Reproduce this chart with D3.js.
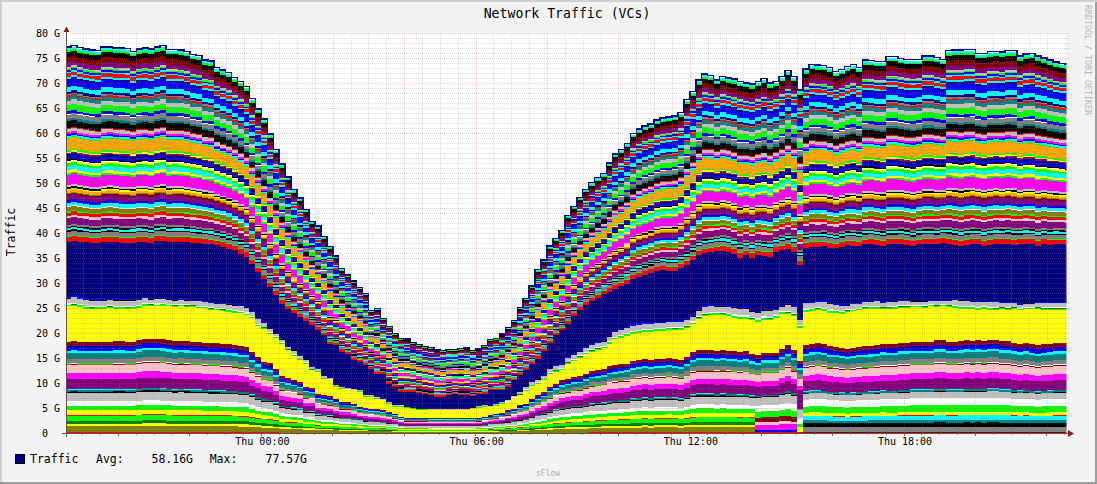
<!DOCTYPE html>
<html><head><meta charset="utf-8">
<script src="https://cdn.jsdelivr.net/npm/d3@7"></script>
<style>
html,body{margin:0;padding:0;background:#F3F3F3;overflow:hidden}
svg{display:block}
text{font-family:"DejaVu Sans Mono",monospace;white-space:pre;fill:#000}
</style></head><body><svg id="c" width="1097" height="484"></svg>
<script>
// ---- values, in G, one per 10-minute sample from Wed 18:30 ----
const totalTraffic=[77.2,77.5,77.1,76.8,76.6,76.5,77.2,77.2,77.0,77.0,76.9,76.3,76.8,77.0,76.8,77.2,77.5,76.7,76.7,76.6,76.3,75.7,75.5,74.6,74.4,73.1,72.6,72.1,71.1,70.3,69.3,66.9,64.8,62.8,59.8,56.7,53.8,51.2,48.7,47.0,
44.7,42.3,41.4,39.3,37.3,35.4,32.9,31.6,30.4,29.1,27.9,24.5,24.9,22.9,21.3,19.9,18.9,18.8,18.1,17.7,17.3,17.1,16.6,16.5,16.7,16.7,16.9,17.0,16.5,16.8,17.5,18.7,18.9,19.8,
21.1,22.5,25.1,26.9,29.4,32.7,34.6,37.4,38.9,40.5,43.5,45.3,47.1,48.7,50.1,51.1,51.9,54.0,55.8,56.7,57.9,59.9,60.8,61.4,61.8,62.6,63.0,63.2,63.4,
64.1,66.7,68.3,70.6,71.8,71.5,70.6,71.3,71.0,70.8,70.3,70.0,69.8,70.3,70.9,70.0,70.3,71.3,72.5,71.3,68.6,72.8,73.7,73.6,73.5,73.1,72.3,72.7,73.3,73.7,73.1,74.6,74.5,74.3,74.3,75.3,75.3,74.9,
74.7,74.7,74.7,75.4,75.4,75.1,74.7,76.5,76.6,76.6,76.7,76.7,75.9,75.9,76.3,76.3,76.2,76.5,76.5,75.4,75.8,75.9,75.4,75.0,74.6,74.2,73.9,73.8];
const navyTop=[38.3,38.5,38.3,38.2,38.0,38.0,38.2,38.3,38.2,38.0,38.0,38.1,38.3,38.2,38.0,38.4,38.5,38.2,38.3,38.3,38.2,38.1,38.0,37.9,37.8,
37.6,37.3,36.9,36.6,35.9,35.3,33.9,32.3,30.9,29.3,27.6,25.9,24.8,
24.0,23.2,22.4,21.6,20.6,19.6,17.8,17.6,16.3,15.9,14.6,14.3,13.6,12.9,11.9,11.9,9.9,9.3,8.3,8.3,8.3,8.0,7.8,7.6,7.3,7.3,7.6,7.8,7.6,7.6,7.4,7.8,7.9,8.6,8.6,8.6,9.3,
10.6,11.6,12.6,13.8,14.9,16.4,18.0,19.6,20.6,21.9,23.4,24.6,25.6,26.4,27.1,27.9,28.3,28.9,29.4,29.9,30.8,31.3,31.6,32.0,32.4,32.6,32.5,32.5,33.0,33.6,34.6,35.6,
36.0,36.2,36.4,36.5,36.3,35.9,35.1,35.6,35.1,35.6,35.4,35.3,36.3,36.6,36.9,36.3,33.6,
37.1,37.3,37.3,37.4,37.1,37.0,37.3,37.6,37.5,37.4,37.8,37.9,37.7,37.5,37.8,37.8,37.9,37.7,37.4,37.8,37.9,37.9,37.8,38.1,37.9,37.7,37.4,37.7,37.8,37.8,37.5,37.7,37.9,37.8,37.9,37.7,37.8,37.9,37.8,37.5,37.8,37.7,37.8,37.8,37.7];
const navyBottom=[27.2,27.6,27.2,27.0,26.9,26.8,26.9,26.9,26.9,26.9,26.9,26.9,26.9,27.3,27.0,27.2,27.2,27.0,26.8,26.8,26.8,26.6,26.7,26.4,26.3,26.2,26.1,26.0,25.8,25.7,25.4,24.5,23.1,22.3,21.1,19.9,18.9,17.4,16.7,
15.6,14.9,13.4,13.0,11.5,11.0,9.8,9.3,9.0,8.9,8.6,7.7,7.6,7.2,6.9,6.2,5.6,5.6,5.3,5.1,4.9,4.9,4.8,4.8,4.8,4.8,4.8,4.8,4.8,5.0,5.4,5.6,
5.4,5.8,6.3,6.6,7.6,8.3,9.3,10.3,10.9,11.6,13.1,13.6,13.9,15.3,15.8,16.6,17.3,17.9,18.3,18.6,19.6,20.5,20.9,21.3,21.8,22.0,22.2,22.2,22.3,22.3,22.5,22.5,22.6,22.9,23.6,24.9,
25.6,25.8,25.7,25.7,25.6,25.5,25.3,25.4,24.7,24.5,24.9,24.9,24.9,25.6,26.1,25.6,22.9,
26.5,26.3,26.6,26.6,26.3,25.9,25.8,25.8,26.1,26.1,26.5,26.6,26.7,26.3,26.5,26.6,26.7,26.7,26.5,26.5,26.6,26.7,26.6,26.7,26.7,26.9,26.9,26.7,26.6,26.6,26.6,26.5,26.5,26.3,26.3,26.3,25.9,26.1,26.1,26.3,26.3,26.3,26.3,26.3,26.3];
const yellowTop=[25.4,25.4,25.3,24.9,24.8,24.9,24.9,25.0,24.9,24.9,24.8,24.9,25.1,25.5,25.5,25.4,25.5,25.4,25.3,25.4,25.3,25.3,25.0,25.0,24.7,24.6,24.5,24.3,24.1,24.0,23.6,
23.0,21.4,20.9,19.9,19.1,17.9,16.6,
15.5,14.6,13.9,12.6,12.3,10.9,10.6,9.3,8.9,8.6,8.6,8.3,7.3,7.3,6.9,6.6,5.9,5.3,5.3,5.1,4.9,4.7,4.7,4.6,4.6,4.6,4.6,4.6,4.6,4.6,4.8,5.1,5.3,
5.2,5.5,5.9,6.2,7.0,7.6,8.5,9.4,9.9,10.6,11.9,12.3,12.6,13.9,14.4,15.1,15.8,16.3,16.7,17.0,17.9,18.8,19.1,19.5,19.9,20.1,20.3,20.3,20.5,20.5,20.7,20.6,20.7,21.0,21.8,22.8,
23.4,23.7,23.7,23.6,23.5,23.1,22.9,22.9,22.6,22.3,22.7,22.6,23.1,23.9,23.8,23.4,21.1,
24.3,24.5,24.6,24.5,24.1,24.1,23.9,24.3,24.4,24.6,24.9,24.9,24.9,24.9,24.9,24.9,25.1,25.1,25.3,25.3,25.1,25.4,25.3,25.4,25.3,25.1,24.9,24.9,24.9,24.7,24.9,24.7,24.6,24.9,24.7,24.9,24.6,24.9,24.9,24.9,24.7,24.7,24.7,24.7,24.7];
const yellowBottom=[18.3,18.4,18.3,18.3,18.3,18.3,18.3,18.3,18.4,18.4,18.3,18.3,18.6,18.9,18.9,18.9,18.8,18.6,18.4,18.5,18.4,18.3,18.3,18.1,18.0,18.0,17.9,17.8,17.7,17.4,17.3,
16.2,15.2,14.3,14.0,12.8,11.4,11.0,
10.7,10.3,9.3,9.1,7.8,7.6,7.4,6.9,6.3,6.3,5.9,5.3,5.1,4.9,4.8,4.6,4.3,3.9,3.3,3.1,3.1,3.1,3.1,3.0,3.0,3.0,3.0,3.0,3.0,3.0,3.0,3.1,3.3,
3.6,3.9,4.1,4.7,4.9,5.6,5.9,6.9,7.6,8.3,9.3,9.9,10.6,10.9,11.3,11.4,11.9,12.5,12.7,12.9,13.4,13.6,13.8,13.9,14.5,14.7,14.9,14.7,14.9,14.9,15.1,14.9,14.6,15.3,16.3,16.6,
16.6,16.6,16.5,16.6,16.5,16.4,16.3,16.4,15.9,15.6,16.1,16.1,16.1,16.9,17.6,16.6,14.5,
17.6,17.9,18.0,17.8,17.4,17.3,17.1,16.9,17.1,17.3,17.4,17.5,17.6,17.9,17.8,17.8,18.1,18.1,18.3,18.3,18.3,18.3,18.6,18.6,18.3,18.3,18.4,18.6,18.5,18.6,18.5,18.7,18.7,18.4,18.4,18.1,17.9,18.1,17.8,17.6,17.8,17.9,18.1,18.1,18.1];

// layers above the navy band, bottom to top: colour and relative thickness
const upperColors=["#ff0000","#00ff00","#808080","#000000","#00ffff","#000000","#808080","#800080","#ffc0cb","#ff0000","#00ff00","#808000","#ffffff","#00ffff","#0000ff","#800080","#800000","#808000","#ffa500","#ffff00","#000000","#c0c0c0","#ff00ff","#00ff00","#ffff00","#00ffff","#00ff00","#ffff00","#ffffff","#000000","#0000ff","#000080","#800080","#ffff00","#00ff00","#ffa500","#00ff00","#00ffff","#0000ff","#ff00ff","#c0c0c0","#ff0000","#000000","#008080","#808080","#ffffff","#0000ff","#00ff00","#c0c0c0","#008080","#ff0000","#808080","#000080","#00ffff","#0000ff","#000080","#00ffff","#ff0000","#00ffff","#0000ff","#00ff00","#c0c0c0","#800080","#800000","#000000","#00ff00","#00ffff","#ffffff"];
const upperShares=[14,3,12,4,7,4,6,20,7,9,4,12,3,10,7,15,5,3,7,5,4,6,32,5,7,13,8,5,3,4,8,7,4,4,5,34,3,5,4,6,10,3,20,7,13,2,8,19,12,12,4,4,7,14,20,5,6,10,4,6,4,5,13,16,15,5,6,4];
// layers between yellow top and navy bottom
const gapColors=["#00ff00","#008000","#ffffff","#c0c0c0","#000000","#0000ff"];
const gapShares=[3,1,3,13,1,4];
// layers under the yellow band, upper part common to all hours
const midColors=["#800080","#ff00ff","#ffc0cb","#800000","#808000","#ffffff","#00ff00","#808080","#008080","#00ffff","#0000ff","#000080","#800080","#800000"];
const midShares=[2,1.2,1.6,0.15,0.1,0.1,0.1,0.8,1.2,0.5,0.7,0.2,0.2,0.7];
// lowest layers, which change order during the day
const baseAColors=["#ff0000","#808000","#ffff00","#008000","#00ff00","#ff0000","#ffff00","#00ff00","#ffffff","#c0c0c0","#000000","#008080","#00ffff"];
const baseAShares=[0.15,1.2,0.5,0.6,1,0.15,0.9,0.9,0.9,1.7,0.25,0.35,0.1];
const baseBColors=["#ff0000","#0000ff","#ff00ff","#ffc0cb","#800000","#00ff00","#ffffff","#c0c0c0","#000000","#008080"];
const baseBShares=[0.1,0.5,1,0.5,0.9,1.1,1.2,1.5,0.2,0.3];
const baseCColors=["#800000","#808080","#000000","#008080","#00ffff","#ff0000","#ffff00","#00ff00","#ffffff","#c0c0c0","#000000","#008080","#00ffff"];
const baseCShares=[0.1,1,0.8,0.5,0.8,0.05,0.6,1.2,1.3,1.1,0.1,0.35,0.1];
const baseDColors=["#ff0000","#ffff00","#00ff00","#ffffff","#c0c0c0","#808080","#800080"];
const baseDShares=[0.1,0.9,0.5,1.1,1.2,0.3,1.7];
const baseFraction=8.7/18.25;
const periodAEnd=116, periodBEnd=123, periodDEnd=124;

const yTickValues=d3.range(0,81,5);
const labelHours=[0,6,12,18];
const legendAvg="58.16G", legendMax="77.57G";

// ---- build the table ----
const sum=a=>d3.sum(a);
const groups=[];
function addGroup(name,colors,shares,zone){colors.forEach((c,k)=>groups.push({key:name+k,color:c,share:shares[k],total:sum(shares),zone}));}
const periodOf=i=>i<periodAEnd?"A":i<periodBEnd?"B":i<periodDEnd?"D":"C";
addGroup("baseA",baseAColors,baseAShares,i=>periodOf(i)==="A"?yellowBottom[i]*baseFraction:0);
addGroup("baseB",baseBColors,baseBShares,i=>periodOf(i)==="B"?yellowBottom[i]*baseFraction:0);
addGroup("baseD",baseDColors,baseDShares,i=>periodOf(i)==="D"?yellowBottom[i]*baseFraction:0);
addGroup("baseC",baseCColors,baseCShares,i=>periodOf(i)==="C"?yellowBottom[i]*baseFraction:0);
addGroup("mid",midColors,midShares,i=>yellowBottom[i]*(1-baseFraction));
addGroup("yellow",["#ffff00"],[1],i=>yellowTop[i]-yellowBottom[i]);
addGroup("gap",gapColors,gapShares,i=>navyBottom[i]-yellowTop[i]);
addGroup("navy",["#000080"],[1],i=>navyTop[i]-navyBottom[i]);
addGroup("upper",upperColors,upperShares,i=>totalTraffic[i]-navyTop[i]);
const colorOf=new Map(groups.map(g=>[g.key,g.color]));

const t0=Date.UTC(2024,0,3,18,30), stepMs=6e5;
const rows=totalTraffic.map((_,i)=>{const r={t:new Date(t0+i*stepMs)};groups.forEach(g=>{r[g.key]=g.zone(i)*g.share/g.total;});return r;});
rows.push(Object.assign({},rows[rows.length-1],{t:new Date(t0+rows.length*stepMs)}));
const stacked=d3.stack().keys(groups.map(g=>g.key))(rows);

// ---- scales ----
const L=66.5,R=1066.5,B=433,T=33;
const x=d3.scaleUtc().domain([new Date(Date.UTC(2024,0,3,18,32,30)),new Date(Date.UTC(2024,0,4,22,33))]).range([L,R]);
const y=d3.scaleLinear().domain([0,80]).range([B,T]);
const svg=d3.select("#c");

// background & shaded frame
svg.append("rect").attr("width",1097).attr("height",484).attr("fill","#F3F3F3");
svg.append("path").attr("d","M0 0H1097V2H2V484H0Z").attr("fill","#CFCFCF");
svg.append("path").attr("d","M1097 0V484H0V482H1095V2H1097Z").attr("fill","#9E9E9E");
svg.append("rect").attr("x",L).attr("y",T).attr("width",R-L).attr("height",B-T).attr("fill","#fff");
svg.append("defs").append("clipPath").attr("id","p").append("rect").attr("x",L).attr("y",T-3).attr("width",R-L).attr("height",B-T+3);

// stack
const area=d3.area().curve(d3.curveStepAfter).x(d=>x(d.data.t)).y0(d=>y(d[0])).y1(d=>y(d[1]));
const plot=svg.append("g").attr("clip-path","url(#p)");
plot.selectAll("path.l").data(stacked).join("path").attr("class","l")
  .attr("d",area).attr("fill",d=>colorOf.get(d.key)).attr("shape-rendering","crispEdges");
plot.append("path").datum(rows).attr("fill","none").attr("stroke","#000080").attr("stroke-width",1.5)
  .attr("d",d3.line().curve(d3.curveStepAfter).x(d=>x(d.t)).y((d,i)=>y(totalTraffic[Math.min(i,totalTraffic.length-1)])))
  .attr("shape-rendering","crispEdges");

// grid through axes (minor lines skip the places where a major line runs)
function styleGrid(g,color,op){g.select(".domain").remove();g.selectAll("line").attr("stroke",color).attr("stroke-opacity",op).attr("stroke-dasharray","1,1").attr("shape-rendering","crispEdges");g.selectAll("text").remove();}
const minorAll=x.ticks(d3.utcMinute.every(30)), majorT=x.ticks(d3.utcHour.every(2));
const minorT=minorAll.filter(d=>!(d.getUTCMinutes()===0&&d.getUTCHours()%2===0));
const labelT=x.ticks(d3.utcHour.every(6)).filter(d=>labelHours.includes(d.getUTCHours()));
const minorY=d3.range(0,81,1).filter(v=>!yTickValues.includes(v));
svg.append("g").attr("transform",`translate(0,${B})`).call(d3.axisBottom(x).tickValues(minorT).tickSizeInner(-(B-T)).tickSizeOuter(0)).call(styleGrid,"#8f8f8f",0.3);
svg.append("g").attr("transform",`translate(0,${B})`).call(d3.axisBottom(x).tickValues(majorT).tickSizeInner(-(B-T)).tickSizeOuter(0)).call(styleGrid,"#de5050",0.3);
svg.append("g").attr("transform",`translate(${R+2},0)`).call(d3.axisLeft(y).tickValues(minorY).tickSizeInner(R-L+4).tickSizeOuter(0)).call(styleGrid,"#8f8f8f",0.3);
svg.append("g").attr("transform",`translate(${R+2},0)`).call(d3.axisLeft(y).tickValues(yTickValues).tickSizeInner(R-L+4).tickSizeOuter(0)).call(styleGrid,"#de5050",0.3);

// tick marks
svg.append("g").selectAll("line").data(minorAll).join("line").attr("x1",d=>x(d)).attr("x2",d=>x(d)).attr("y1",B).attr("y2",B+2).attr("stroke","#8f8f8f").attr("shape-rendering","crispEdges");
svg.append("g").selectAll("line").data(majorT).join("line").attr("x1",d=>x(d)).attr("x2",d=>x(d)).attr("y1",B).attr("y2",B+3).attr("stroke","#a05050").attr("shape-rendering","crispEdges");

// axis labels
const ax=svg.append("g").attr("transform",`translate(0.5,${B})`).call(d3.axisBottom(x).tickValues(labelT).tickSize(0).tickPadding(3).tickFormat(d3.utcFormat("%a %H:%M")));
ax.select(".domain").remove();
ax.attr("font-family",null);
ax.selectAll("text").attr("font-size",10).attr("fill","#000").attr("y",5).attr("dy",".71em");
const ay=svg.append("g").attr("transform",`translate(60,0)`).call(d3.axisLeft(y).tickValues(yTickValues).tickSize(0).tickPadding(0).tickFormat(d=>d===0?"0  ":d+" G"));
ay.select(".domain").remove();
ay.attr("font-family",null);
ay.selectAll("text").attr("font-size",10).attr("fill","#000");

// axis lines and arrows
svg.append("line").attr("x1",62).attr("x2",1069).attr("y1",B+.5).attr("y2",B+.5).attr("stroke","#6b5050").attr("shape-rendering","crispEdges");
svg.append("line").attr("x1",L).attr("x2",L).attr("y1",B+4).attr("y2",31).attr("stroke","#6b5050").attr("shape-rendering","crispEdges");
svg.append("path").attr("d","M1068 430L1074 433.5L1068 437Z").attr("fill","#7F1F1F");
svg.append("path").attr("d","M63.5 32L66.5 26.5L69.5 32Z").attr("fill","#7F1F1F");

// texts
const t=(s,px,py,size,anchor="start")=>svg.append("text").attr("x",px).attr("y",py).attr("font-size",size).attr("text-anchor",anchor).text(s);
t("Network Traffic (VCs)",567,18,13.2,"middle");
t("Traffic",30,463,11.5);
t("Avg:",96,463,11.5);
t(legendAvg,151.5,463,11.5);
t("Max:",209.7,463,11.5);
t(legendMax,265.5,463,11.5);
svg.append("rect").attr("x",15.5).attr("y",454.5).attr("width",8.5).attr("height",9).attr("fill","#000080").attr("stroke","#000").attr("shape-rendering","crispEdges");
svg.append("text").attr("transform","translate(15,232) rotate(-90)").attr("font-size",11.5).attr("text-anchor","middle").text("Traffic");
svg.append("text").attr("transform","translate(1084.5,60) rotate(90)").attr("font-size",8.3).attr("text-anchor","middle").style("fill","#b8b8b8").text("RRDTOOL / TOBI OETIKER");
svg.append("text").attr("x",548).attr("y",476).attr("font-size",8).attr("text-anchor","middle").style("fill","#aaaaaa").text("sFlow");
</script></body></html>
